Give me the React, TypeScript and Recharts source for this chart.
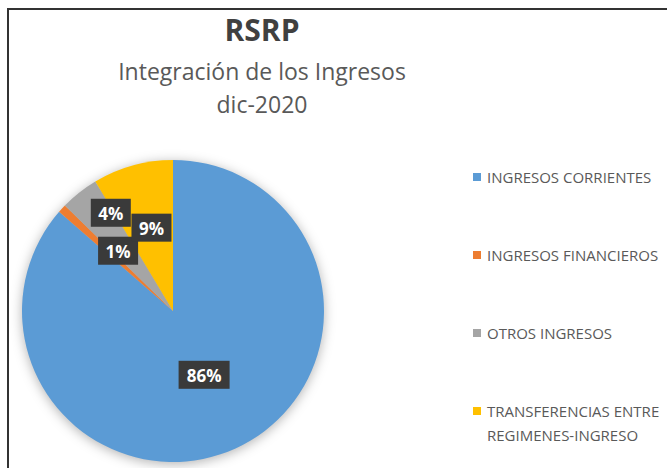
import React from 'react';
import { PieChart, Pie, Cell, Legend } from 'recharts';

const categories = [
  'INGRESOS CORRIENTES',
  'INGRESOS FINANCIEROS',
  'OTROS INGRESOS',
  'TRANSFERENCIAS ENTRE REGIMENES-INGRESO',
];
const shares = [86.4, 0.9, 4.1, 8.6];

const COLORS = ['#5B9BD5', '#ED7D31', '#A5A5A5', '#FFC000'];
// Excel "best fit" label placement: distance from centre (share of radius) and angle nudge
const LABEL_RADIUS = [0.47, 0.54, 0.77, 0.57];
const LABEL_NUDGE = [1.5, -5, -6, -1];

const data = categories.map((name, i) => ({ name, value: shares[i] }));

const FONT = '"Open Sans", sans-serif';
const RAD = Math.PI / 180;

const renderLabel = (props: any) => {
  const { cx, cy, midAngle, outerRadius, percent, index } = props;
  const a = (midAngle + LABEL_NUDGE[index]) * RAD;
  const r = outerRadius * LABEL_RADIUS[index];
  const x = cx + r * Math.cos(a);
  const y = cy - r * Math.sin(a);
  const text = `${Math.round(percent * 100)}%`;
  const w = text.length * 11 + 18;
  const h = 28;
  return (
    <g>
      <rect x={x - w / 2} y={y - h / 2} width={w} height={h} fill="#3a3a3a" />
      <text
        x={x}
        y={y + 1}
        fill="#fff"
        textAnchor="middle"
        dominantBaseline="central"
        fontSize={17}
        fontWeight={700}
        fontFamily={FONT}
      >
        {text}
      </text>
    </g>
  );
};

const renderLegend = (props: any) => {
  const { payload } = props;
  return (
    <div style={{ fontFamily: FONT }}>
      {payload.map((entry: any, i: number) => (
        <div key={`leg-${i}`} style={{ position: 'relative', height: 78 }}>
          <span
            style={{
              position: 'absolute',
              left: 0,
              top: 8,
              width: 8,
              height: 8,
              background: entry.color,
            }}
          />
          <div
            style={{
              position: 'absolute',
              left: 14,
              top: 0,
              width: 180,
              fontSize: 15,
              lineHeight: '24px',
              color: '#595959',
              textAlign: 'left',
            }}
          >
            {entry.value}
          </div>
        </div>
      ))}
    </div>
  );
};

export default function App() {
  return (
    <div
      style={{
        position: 'relative',
        width: 667,
        height: 468,
        background: '#fff',
        overflow: 'hidden',
      }}
    >
      <style>{`body{margin:0}.recharts-pie{filter:drop-shadow(0 2px 6px rgba(0,0,0,0.3));}`}</style>
      <div style={{ position: 'absolute', left: 7, top: 8, width: 700, height: 2, background: '#333' }} />
      <div style={{ position: 'absolute', left: 7, top: 8, width: 2, height: 480, background: '#333' }} />
      <svg
        width={667}
        height={130}
        style={{ position: 'absolute', left: 0, top: 0 }}
        fontFamily={FONT}
      >
        <text x={262} y={41} textAnchor="middle" fontSize={30} fontWeight={700} fill="#404040">
          RSRP
        </text>
        <text x={262} y={80} textAnchor="middle" fontSize={23} fill="#595959">
          Integración de los Ingresos
        </text>
        <text x={262} y={113} textAnchor="middle" fontSize={23} fill="#595959">
          dic-2020
        </text>
      </svg>
      <PieChart width={667} height={468} style={{ position: 'absolute', left: 0, top: 0 }}>
        <Pie
          data={data}
          dataKey="value"
          nameKey="name"
          cx={168}
          cy={306}
          outerRadius={151}
          startAngle={90}
          endAngle={-270}
          stroke="none"
          label={renderLabel}
          labelLine={false}
          isAnimationActive={false}
        >
          {data.map((entry, index) => (
            <Cell key={`cell-${index}`} fill={COLORS[index % COLORS.length]} />
          ))}
        </Pie>
        <Legend
          content={renderLegend}
          layout="vertical"
          verticalAlign="middle"
          align="right"
          wrapperStyle={{ left: 473, top: 165, width: 194 }}
        />
      </PieChart>
    </div>
  );
}
